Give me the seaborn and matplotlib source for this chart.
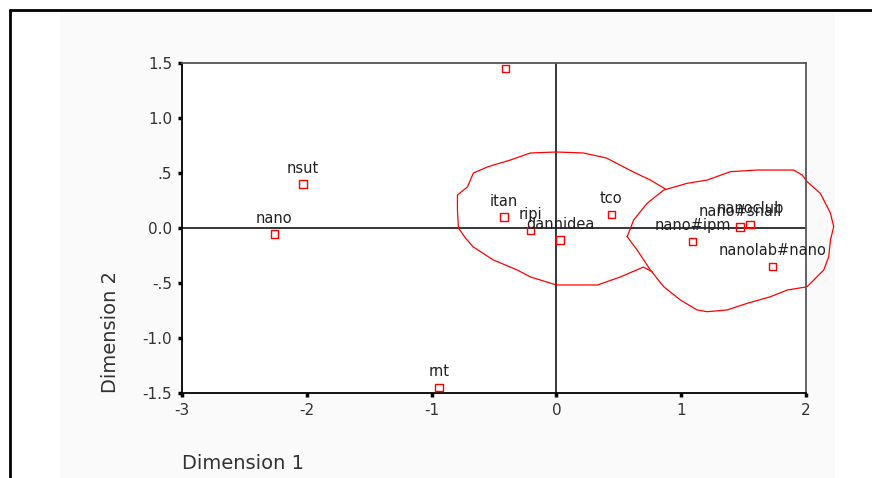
import numpy as np
import pandas as pd
import seaborn as sns
import matplotlib.pyplot as plt
from matplotlib.patches import Rectangle
from matplotlib.lines import Line2D

# point coordinates
labels = ["", "nsut", "nano", "rnt", "itan", "ripi", "dannidea", "tco",
          "nano#ipm", "nano#snail", "nanoclub", "nanolab#nano"]
dim1 = [-0.41, -2.03, -2.26, -0.94, -0.42, -0.21, 0.03, 0.44, 1.09, 1.47, 1.55, 1.73]
dim2 = [1.45, 0.40, -0.055, -1.45, 0.10, -0.02, -0.11, 0.12, -0.12, 0.01, 0.03, -0.35]

x_ticks = [-3, -2, -1, 0, 1, 2]
x_tick_labels = ["-3", "-2", "-1", "0", "1", "2"]
y_ticks = [1.5, 1.0, 0.5, 0.0, -0.5, -1.0, -1.5]
y_tick_labels = ["1.5", "1.0", ".5", "0.0", "-.5", "-1.0", "-1.5"]

# hand drawn cluster outlines (data units)
left_x = [0.873, 0.753, 0.617, 0.401, 0.216, 0.0, -0.208, -0.369, -0.553, -0.665,
          -0.713, -0.793, -0.793, -0.785, -0.729, -0.665, -0.505, -0.313, -0.208,
          0.0, 0.329, 0.513, 0.697, 0.77]
left_y = [0.355, 0.436, 0.509, 0.636, 0.682, 0.691, 0.682, 0.618, 0.555, 0.5,
          0.373, 0.3, 0.164, 0.0, -0.091, -0.173, -0.291, -0.382, -0.445,
          -0.518, -0.518, -0.445, -0.355, -0.40]
right_x = [0.567, 0.619, 0.727, 0.860, 1.047, 1.208, 1.394, 1.608, 1.901, 1.969,
           2.009, 2.115, 2.196, 2.222, 2.196, 2.182, 2.142, 2.009, 1.849, 1.715,
           1.528, 1.368, 1.208, 1.127, 0.994, 0.860, 0.753, 0.700, 0.647, 0.567]
right_y = [-0.079, 0.073, 0.225, 0.345, 0.406, 0.436, 0.512, 0.527, 0.527, 0.482,
           0.421, 0.315, 0.134, 0.012, -0.109, -0.261, -0.382, -0.534, -0.564, -0.625,
           -0.685, -0.745, -0.761, -0.745, -0.655, -0.534, -0.382, -0.291, -0.2, -0.079]

df = pd.DataFrame({"Dimension 1": dim1, "Dimension 2": dim2, "label": labels})

sns.set_style("white")
plt.rcParams['font.family'] = ['DejaVu Sans']

fig = plt.figure(figsize=(8.72, 4.78), dpi=100)
fig.patch.set_facecolor("white")
# faint grey chart panel and outer frame
fig.add_artist(Rectangle((60 / 872, 0), 775 / 872, 1 - 12 / 478, transform=fig.transFigure,
                         facecolor="#fafafa", edgecolor="none", zorder=-10))
fig.add_artist(Line2D([10 / 872, 10 / 872], [0, 1 - 10 / 478], color="black", lw=2, zorder=10))
fig.add_artist(Line2D([10 / 872, 1], [1 - 10 / 478, 1 - 10 / 478], color="black", lw=2, zorder=10))

ax = fig.add_axes([182 / 872, 1 - 393 / 478, 624 / 872, 330 / 478])
ax.set_zorder(1)
ax.set_facecolor("white")

ax.axhline(0, color="black", lw=1.1, zorder=1)
ax.axvline(0, color="black", lw=1.1, zorder=1)

sns.scatterplot(data=df, x="Dimension 1", y="Dimension 2", ax=ax, marker="s", s=28,
                facecolor="none", edgecolor="red", linewidth=1.0, zorder=3)

for _, r in df.iterrows():
    if r["label"]:
        ax.annotate(r["label"], (r["Dimension 1"], r["Dimension 2"]), xytext=(0, 6),
                    textcoords="offset points", ha="center", va="bottom",
                    fontsize=10.5, color="#222222", zorder=4)

ax.plot(left_x, left_y, color="red", lw=0.9, clip_on=False, zorder=2)
ax.plot(right_x, right_y, color="red", lw=0.9, clip_on=False, zorder=2)

ax.set_xlim(-3, 2)
ax.set_ylim(-1.5, 1.5)
ax.set_xticks(x_ticks)
ax.set_xticklabels(x_tick_labels)
ax.set_yticks(y_ticks)
ax.set_yticklabels(y_tick_labels)
ax.tick_params(axis="both", direction="out", length=3, width=2.5, color="black",
               labelsize=11, labelcolor="#333333", pad=4, left=True, bottom=True)

for side in ["left", "bottom"]:
    ax.spines[side].set_color("black")
    ax.spines[side].set_linewidth(1.3)
for side in ["top", "right"]:
    ax.spines[side].set_visible(True)
    ax.spines[side].set_color("#555555")
    ax.spines[side].set_linewidth(1.3)

ax.set_xlabel("Dimension 1", fontsize=14, color="#333333", loc="left", labelpad=26)
ax.set_ylabel("Dimension 2", fontsize=14, color="#333333", loc="bottom", labelpad=16)

fig.savefig("out.png", dpi=100)
